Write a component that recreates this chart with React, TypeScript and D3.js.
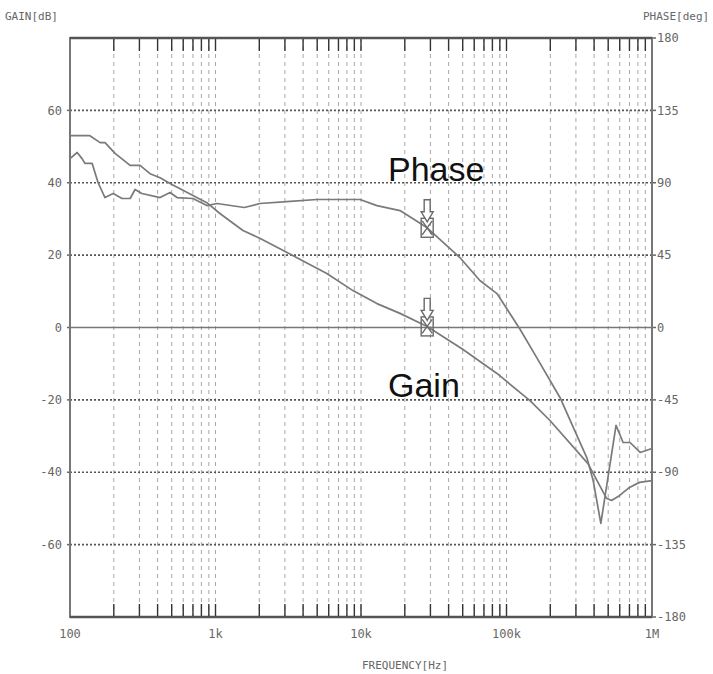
import React from "react";
import * as d3 from "d3";

const gainFreq = [100, 137, 161, 174, 204, 259, 303, 355, 416, 487, 700, 872, 1072, 1544, 2030, 3630, 5820, 8800, 12870, 18540, 28500, 50000, 86000, 145000, 199000, 363000, 487000, 527000, 600000, 700000, 820000, 1000000];
const gainDb = [53.0, 53.0, 51.1, 51.1, 48.1, 44.8, 44.8, 42.5, 41.4, 39.8, 36.5, 34.5, 31.5, 26.8, 24.6, 19.3, 14.9, 10.2, 6.6, 3.9, 0.3, -6.0, -12.7, -20.2, -25.7, -37.6, -47.2, -47.8, -46.4, -44.2, -42.8, -42.3];

const phaseFreq = [100, 112, 121, 127, 142, 156, 174, 198, 228, 259, 280, 312, 416, 487, 544, 700, 872, 1025, 1578, 2020, 3090, 4960, 9850, 12870, 18540, 28500, 47800, 65600, 86000, 123000, 161000, 233000, 358000, 394000, 445000, 566000, 633000, 707000, 829000, 1000000];
const phaseDeg = [105, 108.8, 105, 102, 102, 90, 80.8, 83.3, 80.2, 80.2, 85.8, 83.3, 80.8, 83.9, 80.8, 80.2, 75.8, 77.1, 74.6, 77.1, 78.3, 79.6, 79.6, 75.8, 72.7, 62.0, 43.5, 29.2, 21.1, -0.6, -18.6, -43.5, -81.4, -95.1, -121.8, -60.9, -71.5, -71.5, -77.7, -75.2];

const gainTicks = [60, 40, 20, 0, -20, -40, -60];
const phaseTicks = [180, 135, 90, 45, 0, -45, -90, -135, -180];
const freqLabels = [
  { f: 100, label: "100" },
  { f: 1000, label: "1k" },
  { f: 10000, label: "10k" },
  { f: 100000, label: "100k" },
  { f: 1000000, label: "1M" },
];
const markerFreq = 28500;
const markerGain = 0.3;
const markerPhase = 62;

const W = 713;
const H = 674;
const L = 70, R = 652, T = 38, B = 617;
const mono = "'DejaVu Sans Mono', 'Liberation Mono', monospace";
const txtColor = "#666";

export default function App() {
  const x = d3.scaleLog().domain([100, 1e6]).range([L, R]);
  const yG = d3.scaleLinear().domain([-80, 80]).range([B, T]);
  const yP = d3.scaleLinear().domain([-180, 180]).range([B, T]);

  const minorFreqs: number[] = [];
  for (let dec = 100; dec < 1e6; dec *= 10) {
    for (let m = 1; m <= 9; m++) {
      const f = dec * m;
      if (f > 100) minorFreqs.push(f);
    }
  }

  const gainLine = d3
    .line<number>()
    .x((_, i) => x(gainFreq[i]))
    .y((d) => yG(d));
  const phaseLine = d3
    .line<number>()
    .x((_, i) => x(phaseFreq[i]))
    .y((d) => yP(d));

  const marker = (cx: number, cy: number, key: string) => {
    const bw = 12, bh = 19;
    const arrow = [
      [cx - 3, cy - 28],
      [cx + 3, cy - 28],
      [cx + 3, cy - 16],
      [cx + 6, cy - 16],
      [cx, cy - 6],
      [cx - 6, cy - 16],
      [cx - 3, cy - 16],
    ];
    return (
      <g key={key} stroke="#6a6a6a" strokeWidth={1.4} fill="none">
        <rect x={cx - bw / 2} y={cy - bh / 2} width={bw} height={bh} />
        <line x1={cx - 5} y1={cy - 7} x2={cx + 5} y2={cy + 7} />
        <line x1={cx + 5} y1={cy - 7} x2={cx - 5} y2={cy + 7} />
        <polygon points={arrow.map((p) => p.join(",")).join(" ")} fill="#fff" />
      </g>
    );
  };

  return (
    <svg
      width={W}
      height={H}
      style={{ position: "absolute", left: 0, top: 0, background: "#fff" }}
    >
      <rect x={0} y={0} width={W} height={H} fill="#fff" />
      {/* vertical grid */}
      {minorFreqs.map((f) => (
        <g key={"v" + f}>
          <line x1={x(f)} x2={x(f)} y1={T} y2={B} stroke="#a8a8a8" strokeWidth={1} strokeDasharray="4,4" />
          <line x1={x(f)} x2={x(f)} y1={T} y2={T + 13} stroke="#333" strokeWidth={1.4} />
          <line x1={x(f)} x2={x(f)} y1={B} y2={B - 13} stroke="#333" strokeWidth={1.4} />
        </g>
      ))}
      {/* horizontal grid */}
      {gainTicks.map((g) => (
        <g key={"h" + g}>
          {g === 0 ? (
            <line x1={L} x2={R} y1={yG(g)} y2={yG(g)} stroke="#777" strokeWidth={1.6} />
          ) : (
            <line x1={L} x2={R} y1={yG(g)} y2={yG(g)} stroke="#555" strokeWidth={1.6} strokeDasharray="2,2" />
          )}
          <line x1={L - 3} x2={L} y1={yG(g)} y2={yG(g)} stroke="#666" strokeWidth={1.5} />
          <text x={L - 8} y={yG(g)} dy="0.35em" textAnchor="end" fontFamily={mono} fontSize={12} fill={txtColor}>
            {g}
          </text>
        </g>
      ))}
      {phaseTicks.map((p) => (
        <g key={"p" + p}>
          <line x1={R} x2={R + 4} y1={yP(p)} y2={yP(p)} stroke="#666" strokeWidth={1.5} />
          <text x={R + 5} y={yP(p)} dy="0.35em" textAnchor="start" fontFamily={mono} fontSize={12} fill={txtColor}>
            {p}
          </text>
        </g>
      ))}
      {/* border */}
      <rect x={L} y={T} width={R - L} height={B - T} fill="none" stroke="#777" strokeWidth={2} />
      <line x1={L} x2={R} y1={T} y2={T} stroke="#555" strokeWidth={2.5} />
      <line x1={L} x2={R} y1={B} y2={B} stroke="#555" strokeWidth={2.5} />
      {/* curves */}
      <path d={gainLine(gainDb) || ""} fill="none" stroke="#7a7a7a" strokeWidth={1.7} strokeLinejoin="round" />
      <path d={phaseLine(phaseDeg) || ""} fill="none" stroke="#7a7a7a" strokeWidth={1.7} strokeLinejoin="round" />
      {/* markers */}
      {marker(x(markerFreq), yP(markerPhase), "mp")}
      {marker(x(markerFreq), yG(markerGain), "mg")}
      {/* x labels */}
      {freqLabels.map((d) => (
        <text key={d.label} x={x(d.f)} y={B + 21} textAnchor="middle" fontFamily={mono} fontSize={12} fill={txtColor}>
          {d.label}
        </text>
      ))}
      <text x={405} y={669} textAnchor="middle" fontFamily={mono} fontSize={11} fill={txtColor}>
        FREQUENCY[Hz]
      </text>
      <text x={5} y={20} fontFamily={mono} fontSize={11} fill={txtColor}>
        GAIN[dB]
      </text>
      <text x={643} y={20} fontFamily={mono} fontSize={11} fill={txtColor}>
        PHASE[deg]
      </text>
      {/* annotations */}
      <text x={388} y={181} fontFamily="'Liberation Sans', Arial, sans-serif" fontSize={34} fill="#111">
        Phase
      </text>
      <text x={388} y={397} fontFamily="'Liberation Sans', Arial, sans-serif" fontSize={34} fill="#111">
        Gain
      </text>
    </svg>
  );
}
